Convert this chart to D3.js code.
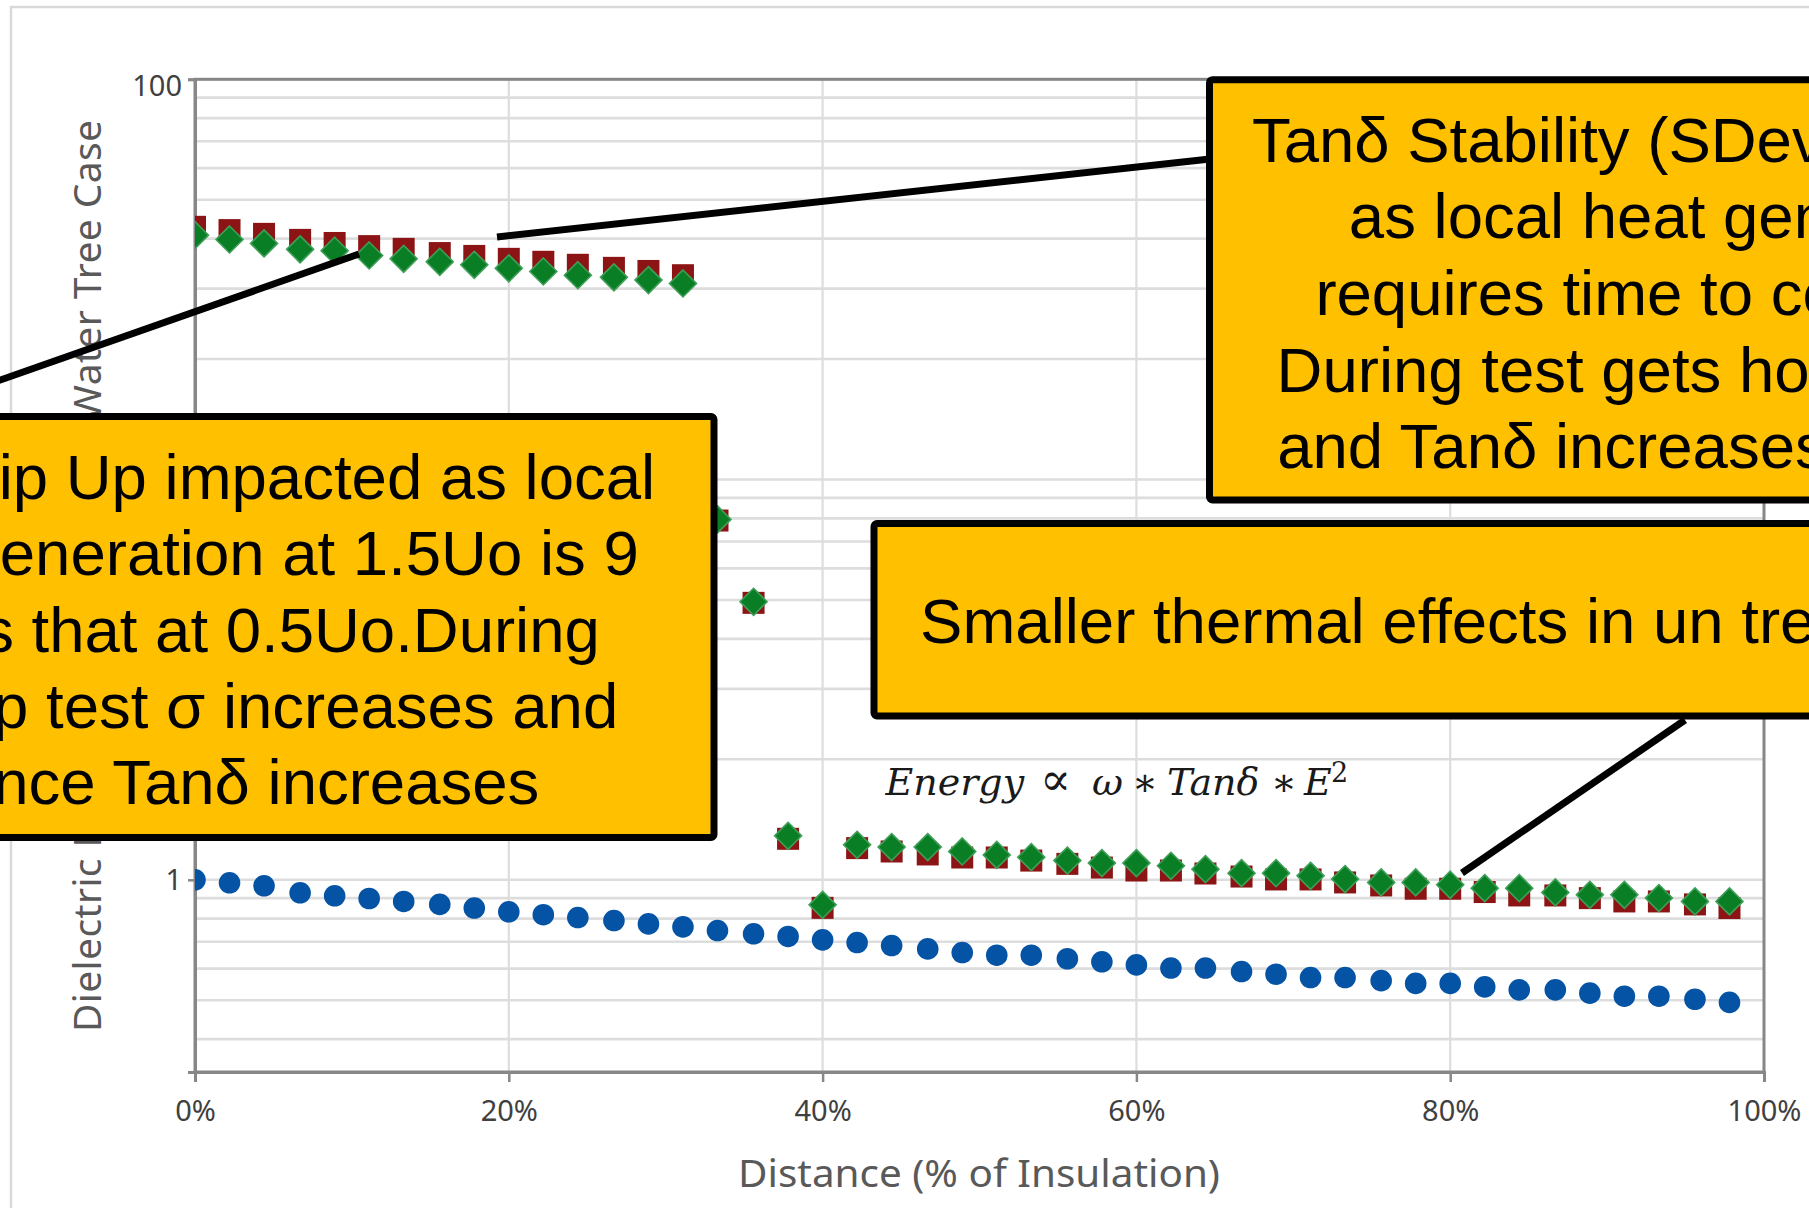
<!DOCTYPE html>
<html>
<head>
<meta charset="utf-8">
<script src="https://cdn.jsdelivr.net/npm/d3@7"></script>
<style>
  html, body { margin: 0; padding: 0; background: #ffffff; overflow: hidden; }
  svg { display: block; }
</style>
</head>
<body>
<svg id="chart" width="1809" height="1208"></svg>
<script>
// Distance through the insulation (% of insulation thickness)
const distance = [0, 2.2, 4.4, 6.7, 8.9, 11.1, 13.3, 15.6, 17.8, 20.0, 22.2, 24.4, 26.7, 28.9, 31.1,
  33.3, 35.6, 37.8, 40.0, 42.2, 44.4, 46.7, 48.9, 51.1, 53.3, 55.6, 57.8, 60.0, 62.2, 64.4,
  66.7, 68.9, 71.1, 73.3, 75.6, 77.8, 80.0, 82.2, 84.4, 86.7, 88.9, 91.1, 93.3, 95.6, 97.8];

// Dielectric response at 0.5Uo (blue circles)
const tanDeltaLow = [1.00, 0.983, 0.966, 0.928, 0.912, 0.898, 0.883, 0.868, 0.850, 0.832, 0.818, 0.805,
  0.791, 0.776, 0.763, 0.747, 0.733, 0.722, 0.708, 0.697, 0.685, 0.672, 0.658, 0.648, 0.648, 0.635,
  0.624, 0.613, 0.602, 0.602, 0.590, 0.581, 0.570, 0.570, 0.560, 0.551, 0.551, 0.540, 0.531, 0.531,
  0.521, 0.512, 0.512, 0.503, 0.494];

// Tip Up response (dark red squares)
const tanDeltaTipUp = [42.8, 42.0, 41.1, 39.7, 39.0, 38.3, 37.7, 36.8, 36.2, 35.6, 35.0, 34.4, 33.8,
  33.2, 32.4, 7.9, 4.92, 1.266, 0.851, 1.200, 1.177, 1.157, 1.137, 1.137, 1.117, 1.096, 1.073, 1.055,
  1.055, 1.037, 1.019, 1.002, 1.002, 0.985, 0.968, 0.950, 0.950, 0.932, 0.914, 0.914, 0.900, 0.883,
  0.883, 0.868, 0.850];

// Stability response (green diamonds)
const tanDeltaStability = [40.8, 39.8, 38.9, 37.6, 37.3, 36.3, 35.6, 35.0, 34.4, 33.7, 33.1, 32.4,
  32.0, 31.5, 30.9, 7.95, 4.95, 1.288, 0.866, 1.223, 1.207, 1.207, 1.177, 1.154, 1.139, 1.117, 1.101,
  1.101, 1.084, 1.063, 1.039, 1.039, 1.023, 1.004, 0.985, 0.985, 0.972, 0.953, 0.953, 0.930, 0.917,
  0.917, 0.900, 0.883, 0.883];

const xTickValues = [0, 20, 40, 60, 80, 100];
const yTickValues = [1, 10, 100];

const xTitle = "Distance (% of Insulation)";
const yTitle = "Dielectric Behaviour (Tanδ, 1e-3) Water Tree Case";

const tipUpNote = [
  "Tanδ Tip Up impacted as local",
  "heat generation at 1.5Uo is 9",
  "times that at 0.5Uo.During",
  "Tip Up test σ increases and",
  "hence Tanδ increases"
];
const stabilityNote = [
  "Tanδ Stability (SDev) impacted",
  "as local heat generation",
  "requires time to cool down",
  "During test gets hotter locally",
  "and Tanδ increases with time"
];
const untreedNote = "Smaller thermal effects in un treed insulation";

// ---------------------------------------------------------------
const svg = d3.select("#chart");
const plot = { left: 195, right: 1764, top: 79.3, bottom: 1072 };

const x = d3.scaleLinear().domain([0, 100]).range([plot.left, plot.right]);
const y = d3.scaleLog().domain([0.331, 100]).range([plot.bottom, plot.top]);

const gridColor = "#dddddd";
const axisColor = "#878787";
const labelFont = "'Noto Sans', 'Open Sans', sans-serif";
const noteFont = "'Liberation Sans', Arial, sans-serif";

svg.append("rect").attr("width", 1809).attr("height", 1208).attr("fill", "#ffffff");

// outer chart frame
svg.append("rect")
  .attr("x", 11).attr("y", 7).attr("width", 1900).attr("height", 1300)
  .attr("fill", "none").attr("stroke", "#d9d9d9").attr("stroke-width", 2.5);

// horizontal gridlines at every log step
svg.append("g").selectAll("line")
  .data(y.ticks())
  .join("line")
  .attr("x1", plot.left).attr("x2", plot.right)
  .attr("y1", d => y(d)).attr("y2", d => y(d))
  .attr("stroke", gridColor).attr("stroke-width", 2.6);

// vertical gridlines
svg.append("g").selectAll("line")
  .data(xTickValues)
  .join("line")
  .attr("x1", d => x(d)).attr("x2", d => x(d))
  .attr("y1", plot.top).attr("y2", plot.bottom)
  .attr("stroke", gridColor).attr("stroke-width", 2.2);

// plot area border
svg.append("rect")
  .attr("x", plot.left).attr("y", plot.top)
  .attr("width", plot.right - plot.left).attr("height", plot.bottom - plot.top)
  .attr("fill", "none").attr("stroke", axisColor).attr("stroke-width", 3);

// x axis
const xAxis = svg.append("g")
  .attr("transform", `translate(0,${plot.bottom})`)
  .call(d3.axisBottom(x).tickValues(xTickValues).tickSize(10).tickPadding(18)
    .tickFormat(d => d + "%"));
xAxis.select(".domain").attr("stroke", axisColor).attr("stroke-width", 3);
xAxis.selectAll(".tick line").attr("stroke", axisColor).attr("stroke-width", 2.5);
xAxis.selectAll(".tick text")
  .attr("font-family", labelFont).attr("font-size", 29).attr("fill", "#404040");

// y axis
const yAxis = svg.append("g")
  .attr("transform", `translate(${plot.left},0)`)
  .call(d3.axisLeft(y).tickValues(yTickValues).tickSize(7).tickPadding(6)
    .tickFormat(d3.format("d")));
yAxis.select(".domain").attr("stroke", axisColor).attr("stroke-width", 3);
yAxis.selectAll(".tick line").attr("stroke", axisColor).attr("stroke-width", 2.5);
yAxis.selectAll(".tick text")
  .attr("font-family", labelFont).attr("font-size", 29).attr("fill", "#404040")
  .attr("y", d => d === 100 ? 7 : 0);

// axis titles
svg.append("text")
  .attr("x", 979).attr("y", 1187)
  .attr("text-anchor", "middle")
  .attr("font-family", labelFont).attr("font-size", 39).attr("fill", "#595959")
  .attr("textLength", 482).attr("lengthAdjust", "spacingAndGlyphs")
  .text(xTitle);

svg.append("text")
  .attr("transform", "translate(101,1032) rotate(-90)")
  .attr("text-anchor", "start")
  .attr("font-family", labelFont).attr("font-size", 39).attr("fill", "#595959")
  .attr("textLength", 912).attr("lengthAdjust", "spacing")
  .text(yTitle);

// data series, clipped to the plot area
svg.append("clipPath").attr("id", "plot-clip")
  .append("rect")
  .attr("x", plot.left).attr("y", plot.top)
  .attr("width", plot.right - plot.left).attr("height", plot.bottom - plot.top);

const series = svg.append("g").attr("clip-path", "url(#plot-clip)");

series.append("g").selectAll("circle")
  .data(distance.map((d, i) => [d, tanDeltaLow[i]]))
  .join("circle")
  .attr("cx", d => x(d[0])).attr("cy", d => y(d[1]))
  .attr("r", 10.8)
  .attr("fill", "#0453a5");

const sq = 22;
series.append("g").selectAll("rect")
  .data(distance.map((d, i) => [d, tanDeltaTipUp[i]]))
  .join("rect")
  .attr("x", d => x(d[0]) - sq / 2).attr("y", d => y(d[1]) - sq / 2)
  .attr("width", sq).attr("height", sq)
  .attr("fill", "#8c1414");

const dh = 13.5;
series.append("g").selectAll("path")
  .data(distance.map((d, i) => [d, tanDeltaStability[i]]))
  .join("path")
  .attr("d", d => {
    const cx = x(d[0]), cy = y(d[1]);
    return `M${cx},${cy - dh}L${cx + dh},${cy}L${cx},${cy + dh}L${cx - dh},${cy}Z`;
  })
  .attr("fill", "#0a7e25")
  .attr("stroke", "#3f9f58").attr("stroke-width", 1.6);

// energy relation
const eq = svg.append("g")
  .attr("font-family", "'DejaVu Serif', serif").attr("font-size", 38).attr("fill", "#1a1a1a");
const eqParts = [
  { t: "Energy", x: 885.5, it: true, fs: 38 },
  { t: "∝", x: 1040, it: false, fs: 46 },
  { t: "ω", x: 1092, it: true, fs: 38 },
  { t: "∗", x: 1132, it: false, fs: 38 },
  { t: "Tanδ", x: 1167, it: true, fs: 38 },
  { t: "∗", x: 1271, it: false, fs: 38 },
  { t: "E", x: 1304, it: true, fs: 38 }
];
eq.selectAll("text").data(eqParts).join("text")
  .attr("x", d => d.x).attr("y", 795)
  .attr("font-size", d => d.fs)
  .attr("font-style", d => d.it ? "italic" : "normal")
  .text(d => d.t);
eq.append("text").attr("x", 1331).attr("y", 782)
  .attr("font-size", 27).text("2");

// callout leaders
const leaders = [
  [[497, 237], [1210, 159]],
  [[-102, 416], [359, 254]],
  [[1685, 720], [1462, 873]]
];
svg.append("g").selectAll("line").data(leaders).join("line")
  .attr("x1", d => d[0][0]).attr("y1", d => d[0][1])
  .attr("x2", d => d[1][0]).attr("y2", d => d[1][1])
  .attr("stroke", "#000").attr("stroke-width", 7);

// annotation boxes
function noteBox(bx, by, bw, bh, lines, firstBaseline, lineGap) {
  const g = svg.append("g");
  g.append("rect")
    .attr("x", bx).attr("y", by).attr("width", bw).attr("height", bh)
    .attr("rx", 3).attr("ry", 3)
    .attr("fill", "#ffc000").attr("stroke", "#000").attr("stroke-width", 7);
  g.selectAll("text").data(lines).join("text")
    .attr("x", bx + bw / 2)
    .attr("y", (d, i) => firstBaseline + i * lineGap)
    .attr("text-anchor", "middle")
    .attr("font-family", noteFont).attr("font-size", 63.5).attr("fill", "#000")
    .text(d => d);
}

noteBox(-252, 416.5, 966, 421, tipUpNote, 499, 76.3);
noteBox(1209.5, 79.7, 953, 420.3, stabilityNote, 161.7, 76.6);
noteBox(874, 523.5, 1344, 192.5, [untreedNote], 643.3, 0);
</script>
</body>
</html>
